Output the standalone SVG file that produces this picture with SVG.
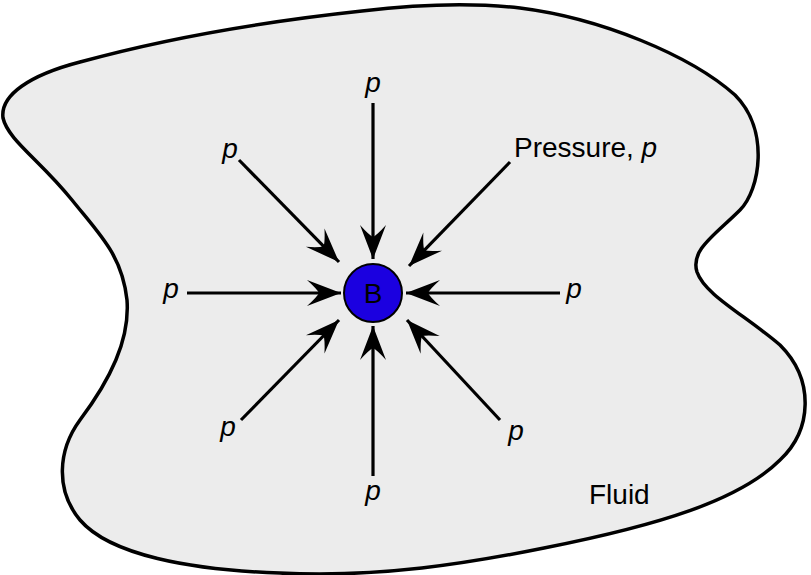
<svg xmlns="http://www.w3.org/2000/svg" width="811" height="575" viewBox="0 0 811 575">
<style>
.lbl{font-family:"Liberation Sans",Arial,sans-serif;font-size:28px;fill:#000}
.it{font-style:italic}
.conn line{stroke:#000;stroke-width:3.2;marker-end:url(#ah)}
</style>
<defs>
<marker id="ah" markerUnits="userSpaceOnUse" viewBox="-36 -14 38 28" refX="0" refY="0" markerWidth="38" markerHeight="28" orient="auto">
<path d="M0,0 L-34,-13 Q-24,-4 -22,0 Q-24,4 -34,13 Z" fill="#000"/>
</marker>
</defs>
<rect width="811" height="575" fill="#fff"/>
<g id="fluid">
<path d="M362,11 C420,4 470,2 520,8 C600,18 690,55 735,95 C770,130 760,190 740,210 C715,235 690,250 697,272 C705,295 745,315 780,345 C815,380 812,430 780,460 C740,500 660,525 544,548 C470,563 380,578 280,573 C190,570 110,555 80,520 C55,490 58,450 80,420 C110,380 130,340 127,300 C122,255 100,235 72,200 C40,160 8,140 3,118 C0,95 30,75 80,62 C160,40 260,22 362,11 Z" fill="#ececec" stroke="#000" stroke-width="3.5"/>
<text class="lbl" x="589" y="504">Fluid</text>
</g>
<g id="B">
<circle cx="373" cy="293" r="29" fill="#1b00e0" stroke="#000" stroke-width="2"/>
<text class="lbl" x="373" y="303" text-anchor="middle">B</text>
</g>
<g class="conn" id="connectors">
<line x1="373" y1="103" x2="373" y2="259"/>
<line x1="239" y1="160" x2="339" y2="262"/>
<line x1="510" y1="162" x2="409" y2="266"/>
<line x1="187" y1="293" x2="341" y2="293"/>
<line x1="560" y1="293" x2="406" y2="293"/>
<line x1="241" y1="420" x2="339" y2="320"/>
<line x1="500" y1="420" x2="407" y2="320"/>
<line x1="373" y1="476" x2="373" y2="326"/>
</g>
<g id="labels">
<text class="lbl it" x="373" y="92" text-anchor="middle">p</text>
<text class="lbl it" x="230" y="158" text-anchor="middle">p</text>
<text class="lbl" x="514" y="157">Pressure, <tspan class="it">p</tspan></text>
<text class="lbl it" x="171" y="298" text-anchor="middle">p</text>
<text class="lbl it" x="574" y="298" text-anchor="middle">p</text>
<text class="lbl it" x="228" y="436" text-anchor="middle">p</text>
<text class="lbl it" x="516" y="440" text-anchor="middle">p</text>
<text class="lbl it" x="373" y="500" text-anchor="middle">p</text>
</g>
</svg>
